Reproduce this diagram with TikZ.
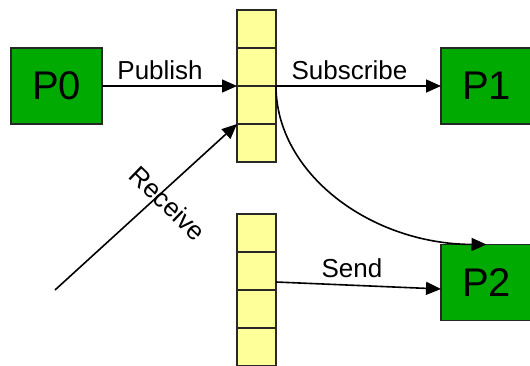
\documentclass[tikz,border=0pt]{standalone}
\usepackage{fontspec}
\setmainfont{Liberation Sans}
\usetikzlibrary{arrows.meta}
\definecolor{procgreen}{RGB}{0,170,0}
\definecolor{cellyellow}{RGB}{255,255,153}
\definecolor{edgegray}{RGB}{40,40,40}
\tikzset{
  proc/.style={draw=edgegray, fill=procgreen, line width=1.6pt,
    minimum width=91pt, minimum height=76pt, inner sep=0pt, outer sep=0pt,
    font=\fontsize{40}{40}\selectfont},
  cell/.style={draw=edgegray, fill=cellyellow, line width=1.4pt,
    minimum width=39pt, minimum height=38pt, inner sep=0pt, outer sep=0pt},
  conn/.style={line width=1.6pt, -{Triangle[length=15pt,width=13pt]}},
  lbl/.style={font=\fontsize{26}{26}\selectfont, inner sep=0pt}
}
\begin{document}
\begin{tikzpicture}[x=1pt,y=-1pt]
\useasboundingbox (0,0) rectangle (530,365);

% processes
\node[proc] (p0) at (56.5,86) {P0};
\node[proc] (p1) at (486.5,86) {P1};
\node[proc] (p2) at (486.5,282.5) {P2};

% upper queue
\node[cell] (a1) at (256.5,29) {};
\node[cell] (a2) at (256.5,67) {};
\node[cell] (a3) at (256.5,105) {};
\node[cell] (a4) at (256.5,143) {};

% lower queue
\node[cell] (b1) at (256.5,233) {};
\node[cell] (b2) at (256.5,271) {};
\node[cell] (b3) at (256.5,309) {};
\node[cell] (b4) at (256.5,347) {};

% free ends of the receive and send arrows
\coordinate (src) at (55,290);
\coordinate (sendstart) at (276,282);
\coordinate (sendend) at (441,289);

% connectors
\draw[conn] (p0.east) -- node[lbl, pos=0.43, above=5pt] {Publish} (a2.south west);
\draw[conn] (a2.south east) -- node[lbl, pos=0.445, above=5pt] {Subscribe} (p1.west);
\draw[conn] (a2.south east) .. controls (276,173) and (370,244) .. (p2.north);
\draw[conn] (src) -- (a3.south west);
\node[lbl, rotate=-44] (recv) at (168,203) {Receive};
\draw[conn] (sendstart) -- node[lbl, pos=0.46, above=7pt] {Send} (sendend);
\end{tikzpicture}
\end{document}
